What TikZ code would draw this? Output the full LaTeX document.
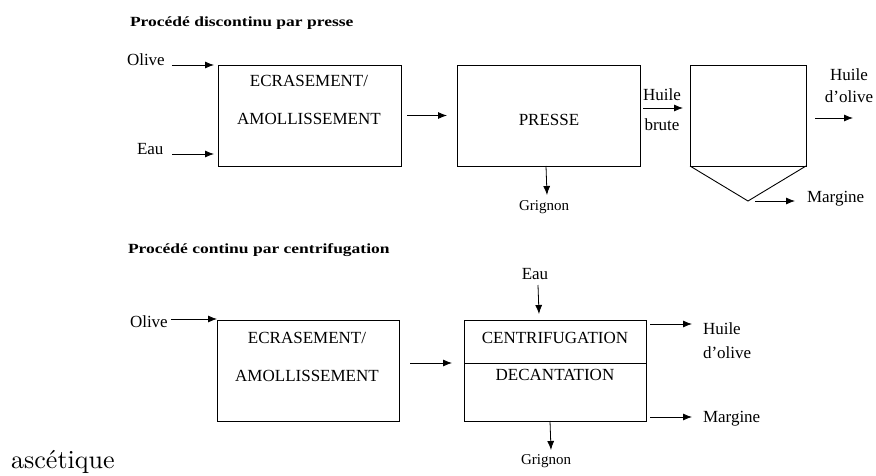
\documentclass[tikz,border=0pt]{standalone}
\usepackage{fontspec}
\usepackage{graphicx}
\setmainfont{Liberation Serif}
\newfontfamily\lmfont{lmroman10-regular}[Extension=.otf]
\usetikzlibrary{arrows.meta,calc}
\tikzset{
  arr/.style={-{Latex[length=9pt,width=7pt]}, line width=0.8pt},
  boxn/.style={draw, line width=0.9pt, inner sep=0pt, outer sep=0pt},
  lbl/.style={inner sep=0pt, outer sep=0pt, font=\fontsize{17}{20}\selectfont},
  sml/.style={inner sep=0pt, outer sep=0pt, font=\fontsize{15}{18}\selectfont},
  ttl/.style={inner sep=0pt, outer sep=0pt, font=\bfseries\fontsize{14}{17}\selectfont, anchor=base west},
}
\begin{document}
\begin{tikzpicture}[x=1pt,y=-1pt]
\useasboundingbox (0,0) rectangle (876,476);

% ---------- top process ----------
\node[ttl] (ttl1) at (130,27) {\scalebox{1.25}[1]{Procédé discontinu par presse}};

\node[lbl, anchor=base west] (olive1) at (127,66) {Olive};
\node[lbl, anchor=base west] (eau1) at (137,155) {Eau};

\node[boxn, minimum width=183pt, minimum height=101pt] (box1) at (309.5,115.5) {};
\node[lbl, anchor=base] (ecr1) at (309,87) {ECRASEMENT/};
\node[lbl, anchor=base] (amo1) at (309,125) {AMOLLISSEMENT};

\node[boxn, minimum width=183pt, minimum height=101pt] (box2) at (548.5,115.5) {};
\node[lbl, anchor=base] (presse) at (549,126) {PRESSE};

\node[sml, anchor=base] (grig1) at (544,211) {Grignon};

\node[lbl, anchor=base] (hb1) at (662,101) {Huile};
\node[lbl, anchor=base] (hb2) at (662,131) {brute};

\node[boxn, minimum width=116pt, minimum height=101pt] (box3) at (748,115.5) {};
\coordinate (cone) at (748,201);
\draw[line width=0.9pt] (box3.south west) -- (cone) -- (box3.south east);

\node[lbl, anchor=base west] (marg1) at (807,203) {Margine};
\node[lbl, anchor=base] (hdo1) at (849,81) {Huile};
\node[lbl, anchor=base] (hdo2) at (849,103) {d'olive};

\draw[arr] ($(olive1.base east)+(7,-1)$) -- ($(box1.north west)+(-4,0)$);
\draw[arr] ($(eau1.base east)+(8.6,-1)$) -- ($(box1.south west)+(-4,-12)$);
\draw[arr] ($(box1.east)+(6,0)$) -- ($(box2.west)+(-10,0)$);
\draw[arr] ($(box2.south)+(-2.5,0)$) -- ($(grig1.base)+(3,-16)$);
\draw[arr] ($(box2.east)+(3,-7.5)$) -- ($(box3.west)+(-7,-7.5)$);
\draw[arr] ($(cone)+(7,0)$) -- ($(marg1.base west)+(-12,-2)$);
\draw[arr] ($(box3.east)+(9,2.5)$) -- ($(hdo2.base)+(4,15)$);

% ---------- bottom process ----------
\node[ttl] (ttl2) at (128,253) {\scalebox{1.25}[1]{Procédé continu par centrifugation}};

\node[lbl, anchor=base west] (olive2) at (130,327) {Olive};

\node[boxn, minimum width=182pt, minimum height=101pt] (box4) at (308,370.5) {};
\node[lbl, anchor=base] (ecr2) at (307,343) {ECRASEMENT/};
\node[lbl, anchor=base] (amo2) at (307,381) {AMOLLISSEMENT};

\node[boxn, minimum width=182pt, minimum height=101pt] (box5) at (555,370.5) {};
\coordinate (div) at (555,363);
\draw[line width=0.9pt] (div -| box5.west) -- (div -| box5.east);
\node[lbl, anchor=base] (cen) at (555,343) {CENTRIFUGATION};
\node[lbl, anchor=base] (dec) at (555,380) {DECANTATION};

\node[lbl, anchor=base] (eau2) at (535,279) {Eau};
\node[lbl, anchor=base west] (hdo3) at (703,334) {Huile};
\node[lbl, anchor=base west] (hdo4) at (703,358) {d'olive};
\node[lbl, anchor=base west] (marg2) at (703,422) {Margine};
\node[sml, anchor=base] (grig2) at (546,464) {Grignon};

\draw[arr] ($(olive2.base east)+(3,-8)$) -- ($(box4.north west)+(0,-1)$);
\draw[arr] ($(box4.east)+(11,-7.5)$) -- ($(box5.west)+(-12,-7.5)$);
\draw[arr] ($(eau2.base)+(3,6)$) -- ($(box5.north)+(-16,-6)$);
\draw[arr] ($(box5.north east)+(4,4)$) -- ($(hdo3.base west)+(-11,-10)$);
\draw[arr] ($(box5.south east)+(4,-4)$) -- ($(marg2.base west)+(-11,-5)$);
\draw[arr] ($(box5.south)+(-5,0)$) -- ($(grig2.base)+(5,-14)$);

\node[inner sep=0pt, anchor=base west, font=\lmfont\fontsize{26}{30}\selectfont] (asc) at (11,468) {ascétique};
\end{tikzpicture}
\end{document}
